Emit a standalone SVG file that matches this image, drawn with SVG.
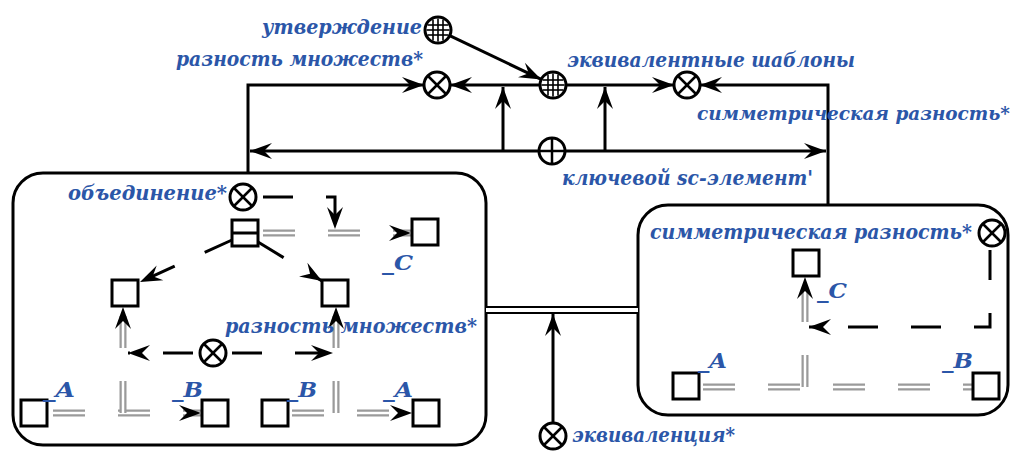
<svg xmlns="http://www.w3.org/2000/svg" xmlns:xlink="http://www.w3.org/1999/xlink" width="1020" height="452" viewBox="0 0 1020 452">
<style>
.lbl{font-family:"DejaVu Serif","Liberation Serif",serif;font-weight:bold;font-style:italic;font-size:21px;fill:#2b56a8}
.sm{font-size:19px}
.ln{fill:none;stroke:#000;stroke-width:3}
.dash{fill:none;stroke:#000;stroke-width:3;stroke-dasharray:30 33}
.dbl-o{fill:none;stroke:#9a9a9a;stroke-width:7;stroke-dasharray:32 33}
.dbl-i{fill:none;stroke:#fff;stroke-width:2.5;stroke-dasharray:32 33}
.box{fill:#fff;stroke:#000;stroke-width:3}
.cont{fill:none;stroke:#000;stroke-width:3}
.gl{stroke:#000;stroke-width:1.6}
.xl{stroke:#000;stroke-width:2.5}
</style>
<defs>
<marker id="ah" viewBox="-23 -9 24 18" refX="0" refY="0" markerWidth="24" markerHeight="18" orient="auto" markerUnits="userSpaceOnUse">
<path d="M0,0 L-22,-8 L-14,0 L-22,8 Z" fill="#000"/>
</marker>
<g id="n-x"><circle r="13" class="box"/><line x1="-9" y1="-9" x2="9" y2="9" class="xl"/><line x1="-9" y1="9" x2="9" y2="-9" class="xl"/></g>
<g id="n-plus"><circle r="13" class="box"/><line x1="-12" y1="0" x2="12" y2="0" class="xl"/><line x1="0" y1="-12" x2="0" y2="12" class="xl"/></g>
<g id="n-grid"><circle r="13" class="box"/>
<line x1="-11.5" y1="0" x2="11.5" y2="0" class="gl"/><line x1="0" y1="-11.5" x2="0" y2="11.5" class="gl"/>
<line x1="-10.4" y1="-5" x2="10.4" y2="-5" class="gl"/><line x1="-10.4" y1="5" x2="10.4" y2="5" class="gl"/>
<line x1="-5" y1="-10.4" x2="-5" y2="10.4" class="gl"/><line x1="5" y1="-10.4" x2="5" y2="10.4" class="gl"/>
</g>
<rect id="n-sq" x="-13" y="-13" width="26" height="26" class="box"/>
<g id="n-tup"><rect x="-13" y="-13" width="26" height="26" class="box"/><line x1="-13" y1="0" x2="13" y2="0" stroke="#000" stroke-width="3"/></g>
</defs>

<g id="contours">
<rect id="contour-left" x="13" y="173" width="473" height="272" rx="30" class="cont"/>
<rect id="contour-right" x="638" y="205" width="370" height="210" rx="30" class="cont"/>
</g>

<g id="connectors">
<path d="M449.7,35.6 L541.3,79.4" class="ln" marker-end="url(#ah)"/>
<path d="M540,85 H450" class="ln" marker-end="url(#ah)"/>
<path d="M566,85 H674" class="ln" marker-end="url(#ah)"/>
<path d="M828,205 V85 H700" class="ln" marker-end="url(#ah)"/>
<path d="M248,173 V85 H424" class="ln" marker-end="url(#ah)"/>
<path d="M539,151 H250" class="ln" marker-end="url(#ah)"/>
<path d="M565,151 H826" class="ln" marker-end="url(#ah)"/>
<path d="M503,151 V87" class="ln" marker-end="url(#ah)"/>
<path d="M605,151 V87" class="ln" marker-end="url(#ah)"/>

<path d="M263,233 H411" class="dbl-o"/><path d="M263,233 H411" class="dbl-i" marker-end="url(#ah)"/>
<path d="M263,197 H335 V229" class="dash" marker-end="url(#ah)"/>
<path d="M232,240 L140,282" class="dash" marker-end="url(#ah)"/>
<path d="M258,242 L322,281" class="dash" marker-end="url(#ah)"/>
<path d="M193,353 H128" class="dash" marker-end="url(#ah)"/>
<path d="M232,353 H333" class="dash" marker-end="url(#ah)"/>

<path d="M53,413 H201" class="dbl-o"/><path d="M53,413 H201" class="dbl-i" marker-end="url(#ah)"/>
<path d="M123,413 V307" class="dbl-o"/><path d="M123,413 V307" class="dbl-i" marker-end="url(#ah)"/>
<path d="M292,413 H412" class="dbl-o"/><path d="M292,413 H412" class="dbl-i" marker-end="url(#ah)"/>
<path d="M336,413 V307" class="dbl-o"/><path d="M336,413 V307" class="dbl-i" marker-end="url(#ah)"/>

<path d="M990,250 V327 H809" class="dash" marker-end="url(#ah)"/>
<path d="M703,387 H973" class="dbl-o"/><path d="M703,387 H973" class="dbl-i"/>
<path d="M805,387 V277" class="dbl-o"/><path d="M805,387 V277" class="dbl-i" marker-end="url(#ah)"/>

<path d="M486,310 H638" fill="none" stroke="#000" stroke-width="8"/>
<path d="M486,310 H638" fill="none" stroke="#fff" stroke-width="4"/>
<path d="M553,423 V314" class="ln" marker-end="url(#ah)"/>
</g>

<g id="node-assert"><use href="#n-grid" x="438" y="30"/><text class="lbl" x="262" y="34" textLength="160" lengthAdjust="spacingAndGlyphs">утверждение</text></g>
<g id="node-diff-top"><use href="#n-x" x="437" y="85"/><text class="lbl" x="176" y="66" textLength="247" lengthAdjust="spacingAndGlyphs">разность множеств*</text></g>
<g id="node-eqpat"><use href="#n-grid" x="553" y="85"/><text class="lbl" x="567" y="67" textLength="288" lengthAdjust="spacingAndGlyphs">эквивалентные шаблоны</text></g>
<g id="node-symdiff-top"><use href="#n-x" x="687" y="85"/><text class="lbl sm" x="697" y="120" textLength="313" lengthAdjust="spacingAndGlyphs">симметрическая разность*</text></g>
<g id="node-key"><use href="#n-plus" x="552" y="151"/><text class="lbl" x="562" y="185" textLength="251" lengthAdjust="spacingAndGlyphs">ключевой sc-элемент'</text></g>

<g id="node-union"><use href="#n-x" x="243" y="197"/><text class="lbl" x="68" y="200" textLength="159" lengthAdjust="spacingAndGlyphs">объединение*</text></g>
<g id="node-tuple"><use href="#n-tup" x="245" y="233"/></g>
<g id="node-C-left"><use href="#n-sq" x="425" y="232"/><text class="lbl" x="382" y="270" textLength="31" lengthAdjust="spacingAndGlyphs">_C</text></g>
<g id="node-left-mid"><use href="#n-sq" x="125" y="293"/></g>
<g id="node-right-mid"><use href="#n-sq" x="335" y="293"/></g>
<g id="node-diff-mid"><use href="#n-x" x="213" y="353"/><text class="lbl" x="225" y="333" textLength="252" lengthAdjust="spacingAndGlyphs">разность множеств*</text></g>
<g id="node-A1"><use href="#n-sq" x="34" y="413"/><text class="lbl" x="43" y="397" textLength="32" lengthAdjust="spacingAndGlyphs">_A</text></g>
<g id="node-B1"><use href="#n-sq" x="215" y="413"/><text class="lbl" x="172" y="397" textLength="31" lengthAdjust="spacingAndGlyphs">_B</text></g>
<g id="node-B2"><use href="#n-sq" x="275" y="413"/><text class="lbl" x="287" y="397" textLength="30" lengthAdjust="spacingAndGlyphs">_B</text></g>
<g id="node-A2"><use href="#n-sq" x="426" y="413"/><text class="lbl" x="383" y="397" textLength="30" lengthAdjust="spacingAndGlyphs">_A</text></g>

<g id="node-symdiff-in"><use href="#n-x" x="992" y="233"/><text class="lbl" x="650" y="239" textLength="322" lengthAdjust="spacingAndGlyphs">симметрическая разность*</text></g>
<g id="node-C-right"><use href="#n-sq" x="806" y="263"/><text class="lbl" x="817" y="298" textLength="30" lengthAdjust="spacingAndGlyphs">_C</text></g>
<g id="node-A-right"><use href="#n-sq" x="686" y="386"/><text class="lbl" x="698" y="368" textLength="29" lengthAdjust="spacingAndGlyphs">_A</text></g>
<g id="node-B-right"><use href="#n-sq" x="986" y="386"/><text class="lbl" x="942" y="368" textLength="31" lengthAdjust="spacingAndGlyphs">_B</text></g>

<g id="node-equiv"><use href="#n-x" x="553" y="436"/><text class="lbl" x="572" y="442" textLength="163" lengthAdjust="spacingAndGlyphs">эквиваленция*</text></g>
</svg>
